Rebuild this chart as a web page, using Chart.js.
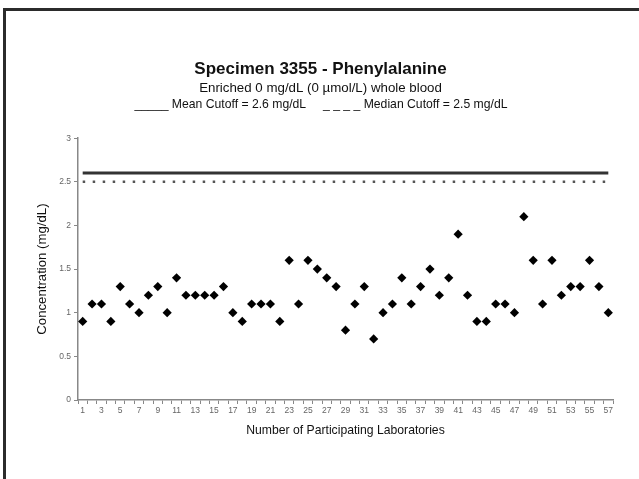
<!DOCTYPE html>
<html>
<head>
<meta charset="utf-8">
<script src="https://cdn.jsdelivr.net/npm/chart.js@4"></script>
<style>
    html, body { margin: 0; padding: 0; background: #fff; overflow: hidden; }
    #frame {
        position: absolute; left: 3px; top: 8px; width: 660px; height: 500px;
        border-top: 3px solid #2b2b2b; border-left: 3px solid #2b2b2b;
    }
    #wrap { position: absolute; left: 0; top: 0; width: 639px; height: 479px; }
</style>
</head>
<body>
<div id="frame"></div>
<div id="wrap"><canvas id="chart" width="639" height="479"></canvas></div>
<script>
// Data
const labs = ['1', '2', '3', '4', '5', '6', '7', '8', '9', '10',
    '11', '12', '13', '14', '15', '16', '17', '18', '19', '20',
    '21', '22', '23', '24', '25', '26', '27', '28', '29', '30',
    '31', '32', '33', '34', '35', '36', '37', '38', '39', '40',
    '41', '42', '43', '44', '45', '46', '47', '48', '49', '50',
    '51', '52', '53', '54', '55', '56', '57']
const concentrations = [0.9, 1.1, 1.1, 0.9, 1.3, 1.1, 1.0, 1.2, 1.3, 1.0,
    1.4, 1.2, 1.2, 1.2, 1.2, 1.3, 1.0, 0.9, 1.1, 1.1,
    1.1, 0.9, 1.6, 1.1, 1.6, 1.5, 1.4, 1.3, 0.8, 1.1,
    1.3, 0.7, 1.0, 1.1, 1.4, 1.1, 1.3, 1.5, 1.2, 1.4,
    1.9, 1.2, 0.9, 0.9, 1.1, 1.1, 1.0, 2.1, 1.6, 1.1,
    1.6, 1.2, 1.3, 1.3, 1.6, 1.3, 1.0]
const meanCutoff = 2.6
const medianCutoff = 2.5
const shownLabs = ['1', '3', '5', '7', '9', '11', '13', '15', '17', '19', '21', '23', '25', '27', '29',
    '31', '33', '35', '37', '39', '41', '43', '45', '47', '49', '51', '53', '55', '57']
const yTicks = [0, 0.5, 1, 1.5, 2, 2.5, 3]
const yTickLabels = ['0', '0.5', '1', '1.5', '2', '2.5', '3']

const titleText = 'Specimen 3355 - Phenylalanine'
const subtitleText = 'Enriched 0 mg/dL (0 \u00b5mol/L) whole blood'
const cutoffText = '_____ Mean Cutoff = 2.6 mg/dL     _ _ _ _ Median Cutoff = 2.5 mg/dL'

const fontFamily = '"Liberation Sans", Arial, sans-serif'
const firstLab = labs[0]
const lastLab = labs[labs.length - 1]

// Draws the cutoff key line under the subtitle
const cutoffKey = {
    id: 'cutoffKey',
    afterDraw (chart) {
        const c = chart.ctx
        c.save()
        c.font = '12.2px ' + fontFamily
        c.fillStyle = '#111'
        c.textAlign = 'center'
        c.textBaseline = 'middle'
        c.fillText(cutoffText, 321, 105)
        c.restore()
    }
}

const ctx = document.getElementById('chart').getContext('2d')
const chart = new Chart(ctx, {
    type: 'line',
    data: {
        labels: labs,
        datasets: [
            {
                label: 'Mean Cutoff',
                data: [{ x: firstLab, y: meanCutoff }, { x: lastLab, y: meanCutoff }],
                borderColor: '#333',
                borderWidth: 3,
                pointRadius: 0
            },
            {
                label: 'Median Cutoff',
                data: [{ x: firstLab, y: medianCutoff }, { x: lastLab, y: medianCutoff }],
                borderColor: '#555',
                borderWidth: 2.5,
                borderDash: [2.5, 7.5],
                pointRadius: 0
            },
            {
                label: 'Concentration',
                data: concentrations,
                showLine: false,
                pointStyle: 'rectRot',
                pointRadius: 4.6,
                pointBackgroundColor: '#000',
                pointBorderColor: '#000',
                pointBorderWidth: 0
            }
        ]
    },
    plugins: [cutoffKey],
    options: {
        responsive: false,
        animation: false,
        devicePixelRatio: 1,
        layout: { padding: { top: 59, left: 28, right: 26, bottom: 41 } },
        plugins: {
            legend: { display: false },
            tooltip: { enabled: false },
            title: {
                display: true,
                text: titleText,
                color: '#111',
                font: { family: fontFamily, size: 17, weight: 'bold', lineHeight: 1.2 },
                padding: { top: 0, bottom: 0 }
            },
            subtitle: {
                display: true,
                text: subtitleText,
                color: '#111',
                font: { family: fontFamily, size: 13.3, lineHeight: 1.2 },
                padding: { top: 0.8, bottom: 42 }
            }
        },
        scales: {
            x: {
                type: 'category',
                offset: true,
                afterFit: (scale) => { scale.height = 38 },
                grid: { offset: true, drawOnChartArea: false, drawTicks: true, tickLength: 4, color: '#888' },
                border: { color: '#888', width: 1.5 },
                ticks: {
                    autoSkip: false,
                    maxRotation: 0,
                    padding: 2,
                    color: '#666',
                    font: { family: fontFamily, size: 8.5 },
                    callback: function (value) {
                        const lab = this.getLabelForValue(value)
                        return shownLabs.includes(lab) ? lab : ''
                    }
                },
                title: {
                    display: true,
                    text: 'Number of Participating Laboratories',
                    color: '#111',
                    font: { family: fontFamily, size: 12.2, lineHeight: 1.2 },
                    padding: { top: 0, bottom: 0 }
                }
            },
            y: {
                min: 0,
                max: 3,
                afterFit: (scale) => { scale.width = 50 },
                grid: { drawOnChartArea: false, drawTicks: true, tickLength: 4, color: '#888' },
                border: { color: '#888', width: 1.5 },
                ticks: {
                    stepSize: 0.5,
                    padding: 3,
                    color: '#666',
                    font: { family: fontFamily, size: 8.5 },
                    callback: (value) => {
                        const i = yTicks.indexOf(value)
                        return i >= 0 ? yTickLabels[i] : ''
                    }
                },
                title: {
                    display: true,
                    text: 'Concentration (mg/dL)',
                    color: '#111',
                    font: { family: fontFamily, size: 13.2, lineHeight: 1.2 },
                    padding: { top: 6, bottom: 0 }
                }
            }
        }
    }
})
</script>
</body>
</html>
